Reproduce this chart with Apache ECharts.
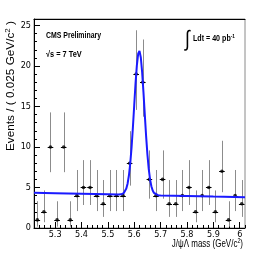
<!DOCTYPE html>
<html>
<head>
<meta charset="utf-8">
<script src="https://cdn.jsdelivr.net/npm/echarts@6/dist/echarts.min.js"></script>
<style>
html,body{margin:0;padding:0;background:#fff;}
#c{width:266px;height:262px;}
</style>
</head>
<body>
<div id="c"></div>
<script>
// ---- data ----
const binWidth = 0.025;
const masses = [5.2325,5.2575,5.2825,5.3075,5.3325,5.3575,5.3825,5.4075,5.4325,5.4575,5.4825,5.5075,5.5325,5.5575,5.5825,5.6075,
                5.6325,5.6575,5.6825,5.7075,5.7325,5.7575,5.7825,5.8075,5.8325,5.8575,5.8825,5.9075,5.9325,5.9575,5.9825,6.0075];
const counts = [1,2,10,1,10,1,4,5,5,4,3,4,4,4,8,19,18,6,4,6,3,3,4,5,2,4,5,2,7,1,4,3];
const errLow  = [0.17,0.71,6.89,0.17,6.89,0.17,2.09,2.84,2.84,2.09,1.37,2.09,2.09,2.09,5.23,14.58,13.74,3.62,2.09,3.62,1.37,1.37,2.09,2.84,0.71,2.09,2.84,0.71,4.42,0.17,2.09,1.37];
const errHigh = [3.30,4.64,14.27,3.30,14.27,3.30,7.16,8.38,8.38,7.16,5.92,7.16,7.16,7.16,11.95,24.41,23.27,9.58,7.16,9.58,5.92,5.92,7.16,8.38,4.64,7.16,8.38,4.64,10.77,3.30,7.16,5.92];
const fitX = [5.22,5.30,5.40,5.50,5.54,5.55,5.56,5.565,5.57,5.575,5.58,5.585,5.59,5.595,5.60,5.605,5.61,5.615,5.62,5.625,5.63,5.635,5.64,5.645,5.65,5.655,5.66,5.665,5.67,5.675,5.68,5.69,5.70,5.80,5.90,6.02];
const fitY = [4.35,4.30,4.23,4.16,4.13,4.16,4.30,4.50,4.87,5.50,6.51,7.99,9.99,12.44,15.16,17.85,20.08,21.51,21.86,21.05,19.25,16.77,14.03,11.38,9.08,7.29,6.00,5.15,4.62,4.33,4.17,4.05,4.02,3.95,3.88,3.80];
const xTicks = [5.3,5.4,5.5,5.6,5.7,5.8,5.9,6.0];
const yTicks = [0,5,10,15,20,25];
const xRange = [5.22, 6.02];
const yRange = [0, 25.8];

const xMinor = [];
for (let v = 5.22; v <= 6.02 + 1e-9; v += 0.02) xMinor.push(+v.toFixed(2));
const yMinor = [];
for (let v = 0; v <= 25; v += 1) yMinor.push(v);

const FONT = '"Liberation Sans",Arial,sans-serif';
const CFONT = '"DejaVu Sans Condensed","Liberation Sans",sans-serif';
const SQ = 0.77; // horizontal squeeze seen in the reference text

const errData = masses.map((m, i) => [m, counts[i], errLow[i], errHigh[i]]);
const ptData = masses.map((m, i) => [m, counts[i]]);
const fitData = fitX.map((x, i) => [x, fitY[i]]);

const chart = echarts.init(document.getElementById('c'), null, {renderer: 'canvas'});
const grid = {left: 34, right: 21, top: 19, bottom: 34, show: true, borderColor: '#8a8a8a', borderWidth: 1, backgroundColor: '#fff'};

chart.setOption({
  animation: false,
  backgroundColor: '#fff',
  grid: grid,
  xAxis: [
    {type: 'value', min: xRange[0], max: xRange[1], position: 'bottom',
     axisLine: {show: true, lineStyle: {color: '#000', width: 1}},
     axisTick: {show: true, inside: true, length: 6, customValues: xTicks, lineStyle: {color: '#000'}},
     axisLabel: {show: true, customValues: xTicks, margin: 2, color: '#000', fontFamily: CFONT, fontSize: 9,
                 formatter: v => String(+v.toFixed(1))},
     splitLine: {show: false}},
    {type: 'value', min: xRange[0], max: xRange[1], position: 'bottom',
     axisLine: {show: false},
     axisTick: {show: true, inside: true, length: 3, customValues: xMinor, lineStyle: {color: '#000'}},
     axisLabel: {show: false}, splitLine: {show: false}},
    {type: 'value', min: xRange[0], max: xRange[1], position: 'top',
     axisLine: {show: true, lineStyle: {color: '#000', width: 1}},
     axisTick: {show: false}, axisLabel: {show: false}, splitLine: {show: false}}
  ],
  yAxis: [
    {type: 'value', min: yRange[0], max: yRange[1], position: 'left',
     axisLine: {show: true, lineStyle: {color: '#000', width: 1}},
     axisTick: {show: true, inside: true, length: 6, customValues: yTicks, lineStyle: {color: '#000'}},
     axisLabel: {show: true, customValues: yTicks, margin: 3, color: '#000', fontFamily: CFONT, fontSize: 9},
     splitLine: {show: false}},
    {type: 'value', min: yRange[0], max: yRange[1], position: 'left',
     axisLine: {show: false},
     axisTick: {show: true, inside: true, length: 3, customValues: yMinor, lineStyle: {color: '#000'}},
     axisLabel: {show: false}, splitLine: {show: false}}
  ],
  series: [
    {type: 'custom', xAxisIndex: 0, yAxisIndex: 0, data: errData, clip: true, z: 2,
     renderItem: function (params, api) {
       const x = api.value(0), y = api.value(1), lo = api.value(2), hi = api.value(3);
       const pLo = api.coord([x, lo]), pHi = api.coord([x, hi]);
       const pL = api.coord([x - binWidth / 2, y]), pR = api.coord([x + binWidth / 2, y]);
       const cx = Math.round(pLo[0]) + 0.5;
       const cy = Math.round(pL[1]) + 0.5;
       return {type: 'group', children: [
         {type: 'line', shape: {x1: cx, y1: pLo[1], x2: cx, y2: pHi[1]}, style: {stroke: '#8c8c8c', lineWidth: 1}},
         {type: 'line', shape: {x1: pL[0] + 0.5, y1: cy, x2: pR[0] - 0.5, y2: cy}, style: {stroke: '#000', lineWidth: 1}}
       ]};
     }},
    {type: 'scatter', xAxisIndex: 0, yAxisIndex: 0, data: ptData, symbol: 'circle', symbolSize: 3.6,
     itemStyle: {color: '#000'}, z: 3, silent: true},
    {type: 'line', xAxisIndex: 0, yAxisIndex: 0, data: fitData, showSymbol: false, smooth: false,
     lineStyle: {color: '#1a1aff', width: 2}, z: 4, clip: true, silent: true}
  ],
  graphic: [
    {type: 'text', x: 46, y: 36, scaleX: SQ, style: {text: 'CMS Preliminary', font: 'bold 9px ' + FONT, fill: '#000', verticalAlign: 'middle'}},
    {type: 'text', x: 46, y: 55, scaleX: 0.82, style: {text: '√s = 7 TeV', font: 'bold 9px ' + FONT, fill: '#000', verticalAlign: 'middle'}},
    {type: 'text', x: 185, y: 40, scaleX: 0.8, style: {text: '∫', font: '22px ' + FONT, fill: '#000', verticalAlign: 'middle'}},
    {type: 'text', x: 193, y: 39, scaleX: 0.79, style: {text: '{b|Ldt = 40 pb}{s|-1}', fill: '#000', verticalAlign: 'middle',
      rich: {b: {font: 'bold 9px ' + FONT, fill: '#000'}, s: {font: 'bold 6px ' + FONT, fill: '#000', verticalAlign: 'top', padding: [0,0,5,0]}}}},
    {type: 'text', x: 243, y: 244, scaleX: 0.76, style: {text: '{a|J/ψΛ mass (GeV/c}{s|2}{a|)}', align: 'right', verticalAlign: 'middle',
      rich: {a: {font: '10.5px ' + FONT, fill: '#000'}, s: {font: '7px ' + FONT, fill: '#000', padding: [0,0,6,0]}}}},
    {type: 'text', x: 11, y: 151, rotation: Math.PI / 2, scaleX: 1.12, style: {text: '{a|Events / ( 0.025 GeV/c}{s|2}{a| )}', align: 'left', verticalAlign: 'middle',
      rich: {a: {font: '10.5px ' + FONT, fill: '#000'}, s: {font: '7px ' + FONT, fill: '#000', padding: [0,0,6,0]}}}}
  ]
});
</script>
</body>
</html>
